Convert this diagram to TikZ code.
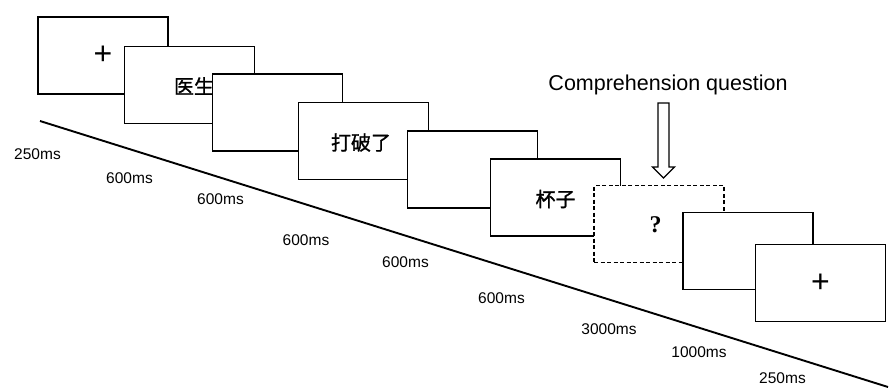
\documentclass[tikz,border=0pt]{standalone}
\usepackage{fontspec}
\setmainfont{Liberation Sans}
\newfontfamily\cjk[FakeBold=1.2]{Noto Sans CJK SC}
\newfontfamily\serifq{Liberation Serif}
\usetikzlibrary{calc}
\begin{document}
\begin{tikzpicture}[x=1pt,y=-1pt,
  screen/.style={draw=black,line width=1.9pt,fill=white,minimum width=130pt,minimum height=77pt,inner sep=0pt,anchor=center},
  dscreen/.style={screen,dash pattern=on 4pt off 2.5pt},
  cjktext/.style={font=\cjk\fontsize{20}{20}\selectfont,inner sep=0pt},
  fixtext/.style={font=\fontsize{32}{32}\selectfont},
  timelabel/.style={font=\fontsize{15.5}{15.5}\selectfont,inner sep=0pt,anchor=center},
  qlabel/.style={font=\fontsize{21.5}{21.5}\selectfont,inner sep=0pt,anchor=center}
]
\useasboundingbox (0,0) rectangle (892,389);
% timeline
\coordinate (t0) at (40,121);
\coordinate (t1) at (888,387);
\draw[line width=1.9pt] (t0) -- (t1);
% screens
\node[screen,fixtext] (s1) at (103,55.5) {+};
\node[screen] (s2) at (189.5,85) {};
\node[cjktext] (w2) at (194,86) {医生};
\node[screen] (s3) at (277.5,112.5) {};
\node[screen] (s4) at (363.5,141) {};
\node[cjktext] (w4) at (361,142.5) {打破了};
\node[screen] (s5) at (472.5,169.5) {};
\node[screen] (s6) at (555.5,197.5) {};
\node[cjktext] (w6) at (555.5,199) {杯子};
\node[dscreen] (s7) at (659,224) {};
\node[font=\serifq\bfseries\fontsize{24}{24}\selectfont,inner sep=0pt] (w7) at (655.5,225) {?};
\node[screen] (s8) at (748,251) {};
\node[screen,fixtext] (s9) at (820.5,283) {+};
% time labels
\node[timelabel] (l1) at (37.5,154) {250ms};
\node[timelabel] (l2) at (129.5,178) {600ms};
\node[timelabel] (l3) at (220.5,199) {600ms};
\node[timelabel] (l4) at (306,240) {600ms};
\node[timelabel] (l5) at (405.5,262) {600ms};
\node[timelabel] (l6) at (501.5,298) {600ms};
\node[timelabel] (l7) at (609,329) {3000ms};
\node[timelabel] (l8) at (699,352) {1000ms};
\node[timelabel] (l9) at (782.5,378) {250ms};
% comprehension question
\node[qlabel] (q) at (668,85) {Comprehension question};
\coordinate (qtop) at (663.5,103);
\coordinate (qtip) at (663.5,178);
\draw[line width=1.3pt,line join=miter] (qtop) ++(-5.5,0) -- ++(0,64) -- ++(-5.5,0) -- (qtip) -- ++(11,-11) -- ++(-5.5,0) -- ++(0,-64) -- cycle;
\end{tikzpicture}
\end{document}
